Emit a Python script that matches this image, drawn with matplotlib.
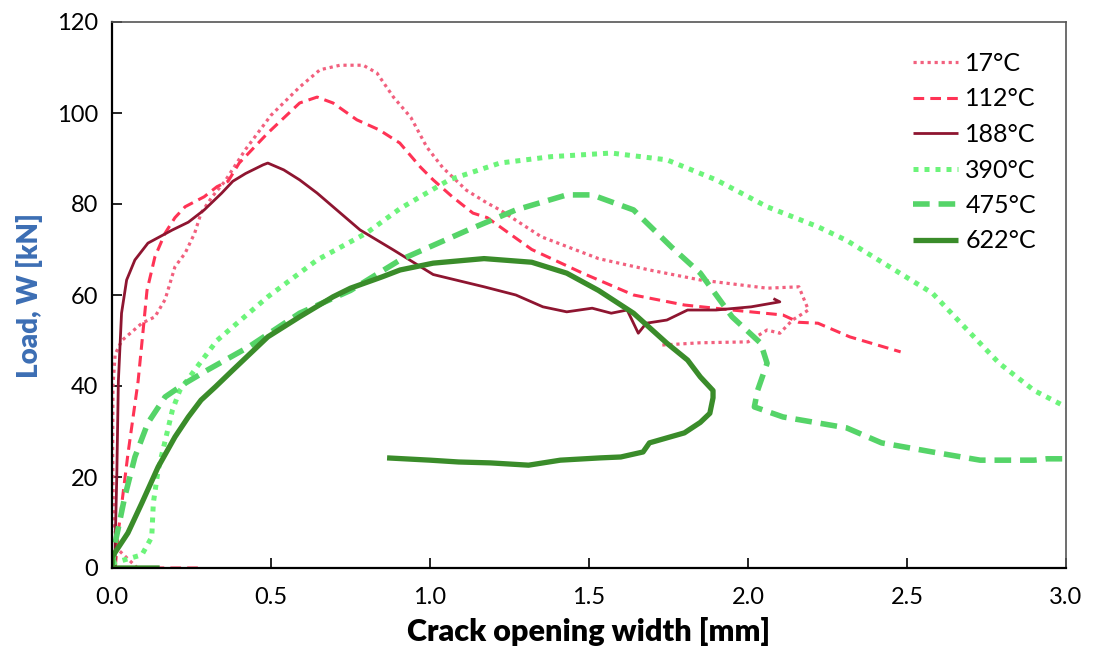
import matplotlib
matplotlib.use("Agg")
import matplotlib.pyplot as plt

plt.rcParams['font.family'] = ['Lato', 'DejaVu Sans']

labels = ["17°C", "112°C", "188°C", "390°C", "475°C", "622°C"]

x17 = [0.08, 0.02, 0.005, 0.002, 0.003, 0.01, 0.031, 0.094, 0.135, 0.167, 0.198, 0.23, 0.26, 0.28, 0.315,
       0.355, 0.42, 0.50, 0.59, 0.654, 0.717, 0.79, 0.833, 0.885, 0.94, 0.99, 1.04, 1.115, 1.18, 1.22,
       1.35, 1.53, 1.69, 1.85, 2.06, 2.16, 2.19, 2.14, 2.10, 2.06, 2.0, 1.85, 1.73]
y17 = [0, 4, 10, 25, 40, 47, 50, 53.8, 55.2, 59, 66.2, 69.2, 73.6, 78, 81.6,
       85, 92, 99.5, 105.7, 109.5, 110.5, 110.5, 108.8, 103.5, 99, 92.5, 88, 83, 80.2, 78.7,
       72.8, 68, 65.5, 63.3, 61.5, 61.8, 56.7, 54.5, 51.6, 52.3, 49.7, 49.5, 49]

x112 = [0.27, 0.1, 0.01, 0.02, 0.05, 0.082, 0.098, 0.11, 0.135, 0.167, 0.198, 0.23, 0.29, 0.33, 0.365,
        0.40, 0.49, 0.59, 0.645, 0.695, 0.77, 0.84, 0.905, 0.97, 1.01, 1.07, 1.135, 1.18, 1.32, 1.48,
        1.64, 1.80, 1.95, 2.11, 2.16, 2.22, 2.27, 2.32, 2.48]
y112 = [0, 0, 0, 8, 25, 41, 52.3, 61, 68.4, 73.6, 77, 79.4, 81.6, 83.8, 85,
        89, 95.6, 102.2, 103.5, 102.2, 98.5, 96.3, 93.4, 88.1, 85.3, 81.6, 78, 77, 70, 64.8,
        60, 57.8, 56.7, 55.6, 54, 53.8, 52.3, 50.8, 47.5]

x188 = [0.01, 0.01, 0.015, 0.02, 0.03, 0.046, 0.072, 0.113, 0.19, 0.24, 0.29, 0.345, 0.38, 0.42, 0.475,
        0.49, 0.54, 0.59, 0.645, 0.78, 0.885, 1.01, 1.17, 1.27, 1.355, 1.43, 1.51, 1.57, 1.62, 1.655,
        1.68, 1.745, 1.81, 1.90, 2.01, 2.10, 2.08]
y188 = [0, 5.5, 20, 41, 56, 63.3, 67.7, 71.4, 74.3, 76, 78.7, 82.4, 85, 86.7, 88.6,
        89, 87.5, 85.3, 82.4, 74.3, 69.9, 64.5, 61.8, 60, 57.4, 56.3, 57.1, 56, 56.7, 51.6,
        53.8, 54.5, 56.7, 56.7, 57.4, 58.5, 59.2]

x390 = [0.0, 0.094, 0.125, 0.13, 0.145, 0.17, 0.19, 0.213, 0.26, 0.33, 0.43, 0.49, 0.645, 0.80, 0.906,
        1.06, 1.22, 1.38, 1.57, 1.745, 1.90, 2.06, 2.22, 2.31, 2.58, 2.69, 2.79, 2.90, 3.0]
y390 = [1, 2.9, 6.8, 14.3, 21.5, 28.8, 34.7, 39, 43.5, 50, 56, 59.6, 67.7, 73.6, 79,
        85.3, 89, 90.4, 91.2, 89.7, 85.3, 79.4, 75, 72, 60.4, 52.3, 45, 39, 35.4]

x475 = [0.0, 0.01, 0.04, 0.072, 0.113, 0.167, 0.23, 0.30, 0.43, 0.59, 0.75, 0.906, 1.12, 1.27, 1.43,
        1.51, 1.64, 1.76, 1.85, 1.95, 2.04, 2.06, 2.03, 2.02, 2.11, 2.31, 2.42, 2.58, 2.73, 2.90,
        2.94, 3.0]
y475 = [0, 5.5, 15.6, 24.4, 31.9, 37.6, 40.6, 43.5, 48.6, 56, 61, 67.7, 74.3, 78.7, 82,
        82, 78.7, 70.5, 64.8, 55.2, 49.4, 45, 39, 35.4, 33.2, 30.8, 27.5, 25.5, 23.7, 23.7,
        24, 24]

x622 = [0.15, 0.0, 0.0, 0.05, 0.094, 0.145, 0.198, 0.24, 0.28, 0.325, 0.38, 0.49, 0.59, 0.695, 0.75,
        0.85, 0.906, 1.01, 1.17, 1.32, 1.43, 1.53, 1.64, 1.745, 1.81, 1.85, 1.89, 1.89, 1.88, 1.85,
        1.80, 1.745, 1.69, 1.67, 1.60, 1.535, 1.41, 1.31, 1.19, 1.09, 1.0, 0.865]
y622 = [0, 0, 2.4, 7.7, 14.3, 22.2, 28.8, 33.2, 36.9, 39.8, 43.5, 50.8, 55.2, 59.6, 61.5,
        64, 65.5, 67, 68, 67.2, 64.8, 61, 56, 49.4, 45.7, 42, 39, 37.4, 34, 32,
        29.7, 28.6, 27.5, 25.5, 24.4, 24.2, 23.7, 22.6, 23.1, 23.3, 23.7, 24.2]

series_x = [x17, x112, x188, x390, x475, x622]
series_y = [y17, y112, y188, y390, y475, y622]
colors = ["#F2607E", "#FF3355", "#8E1530", "#6CF47A", "#55D468", "#3A8C2A"]
styles = [(0, (1, 1.2)), (0, (3.5, 2)), "-", (0, (1, 1.2)), (0, (3, 1.6)), "-"]
widths = [2.3, 2.2, 2.0, 3.6, 4.0, 3.8]

fig = plt.figure(figsize=(10.93, 6.58), dpi=100)
ax = fig.add_axes([112/1093, 1-568/658, (1066-112)/1093, (568-22)/658])

for xs, ys, c, ls, lw, lab in zip(series_x, series_y, colors, styles, widths, labels):
    ax.plot(xs, ys, color=c, linestyle=ls, linewidth=lw, label=lab,
            solid_capstyle='butt', dash_capstyle='butt', solid_joinstyle='round')

ax.set_xlim(0, 3.0)
ax.set_ylim(0, 120)
ax.set_xticks([0.0, 0.5, 1.0, 1.5, 2.0, 2.5, 3.0])
ax.set_xticklabels(["0.0", "0.5", "1.0", "1.5", "2.0", "2.5", "3.0"])
ax.set_yticks([0, 20, 40, 60, 80, 100, 120])
ax.tick_params(direction='in', length=7, width=1.2, labelsize=17, pad=10)
ax.tick_params(axis='x', pad=14)
for s in ['left', 'bottom']:
    ax.spines[s].set_linewidth(1.6)
    ax.spines[s].set_color('black')
for s in ['top', 'right']:
    ax.spines[s].set_linewidth(1.2)
    ax.spines[s].set_color('#555555')

ax.set_xlabel("Crack opening width [mm]", fontsize=22, fontweight='heavy', labelpad=6)
ax.set_ylabel("Load, W [kN]", fontsize=20, fontweight='heavy', color='#3C6EB4', labelpad=10)

leg = ax.legend(loc='upper right', frameon=False, fontsize=18, handlelength=1.8,
                handletextpad=0.3, labelspacing=0.5, borderaxespad=0.8)

fig.savefig("out.png", dpi=100)
